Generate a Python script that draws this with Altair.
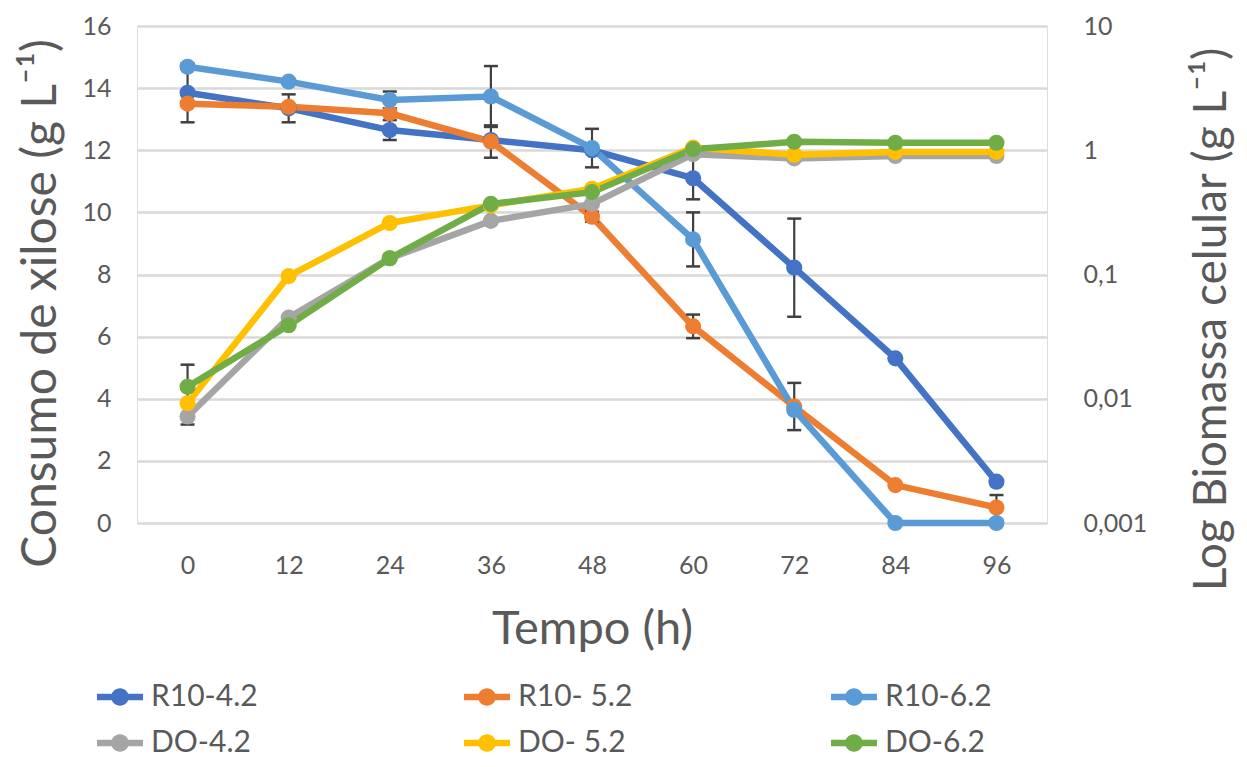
import altair as alt
import pandas as pd

# ---- data ----
times = [0, 12, 24, 36, 48, 60, 72, 84, 96]

series_r10 = ["R10-4.2", "R10- 5.2", "R10-6.2"]
series_do = ["DO-4.2", "DO- 5.2", "DO-6.2"]

r10_42 = [13.85, 13.35, 12.65, 12.33, 12.0, 11.1, 8.22, 5.3, 1.33]
r10_52 = [13.5, 13.4, 13.19, 12.28, 9.86, 6.33, 3.75, 1.22, 0.5]
r10_62 = [14.69, 14.21, 13.62, 13.73, 12.07, 9.13, 3.64, 0.0, 0.0]

do_42 = [0.0072, 0.045, 0.135, 0.27, 0.37, 0.93, 0.86, 0.90, 0.90]
do_52 = [0.0092, 0.097, 0.26, 0.36, 0.49, 1.05, 0.92, 0.97, 0.97]
do_62 = [0.0125, 0.039, 0.135, 0.37, 0.46, 1.02, 1.17, 1.15, 1.15]

# error (± value, 0 = no bar)
err_r10_42 = [0.95, 0.45, 0.32, 0, 0, 0.68, 1.58, 0, 0]
err_r10_52 = [0, 0, 0, 0.52, 0.16, 0.38, 0.76, 0, 0.4]
err_r10_62 = [0, 0, 0.27, 0.98, 0.62, 0.87, 0, 0, 0]
err_do_42 = [0, 0, 0, 0, 0, 0, 0, 0, 0]
err_do_52 = [0, 0, 0, 0, 0, 0, 0, 0, 0]
err_do_62 = [0.0063, 0, 0, 0, 0, 0, 0, 0, 0]

colors = ["#4472C4", "#ED7D31", "#5B9BD5", "#A5A5A5", "#FFC000", "#70AD47"]

# ---- tables ----
def long(names, vals, errs):
    rows, erows = [], []
    for n, v, e in zip(names, vals, errs):
        for t, y, d in zip(times, v, e):
            rows.append({"t": t, "v": y, "s": n})
            if d > 0:
                erows.append({"t": t, "lo": y - d, "hi": y + d, "s": n})
    return pd.DataFrame(rows), pd.DataFrame(erows)

df_r, ef_r = long(series_r10, [r10_42, r10_52, r10_62], [err_r10_42, err_r10_52, err_r10_62])
df_d, ef_d = long(series_do, [do_42, do_52, do_62], [err_do_42, err_do_52, err_do_62])

FONT = "Lato"
GRAY = "#595959"
W, H = 910, 497

legend_path = ("M-1,-0.14L1,-0.14L1,0.14L-1,0.14Z "
               "M0.38,0A0.38,0.38,0,1,1,-0.38,0A0.38,0.38,0,1,1,0.38,0Z")

color_scale = alt.Scale(domain=series_r10 + series_do, range=colors)
legend = alt.Legend(
    orient="none", legendX=-40, legendY=648, columns=3, direction="horizontal",
    symbolType=legend_path, symbolSize=2116, symbolStrokeWidth=0,
    labelFontSize=30, labelFont=FONT, labelColor=GRAY, labelOffset=8,
    columnPadding=198, rowPadding=8, title=None, gridAlign="all", labelLimit=400,
)

x_enc = alt.X(
    "t:Q",
    scale=alt.Scale(domain=[-6, 102], nice=False, zero=False),
    axis=alt.Axis(values=times, grid=False, domain=False, ticks=False,
                  labelFontSize=25, labelFont=FONT, labelColor=GRAY, labelPadding=30,
                  title="Tempo (h)", titleFontSize=47, titleFont=FONT, titleColor=GRAY,
                  titleFontWeight="normal", titlePadding=28),
)

left_axis = alt.Axis(values=list(range(0, 17, 2)), grid=True, gridColor="#D9D9D9", gridWidth=2.5,
                     domain=False, ticks=False, labelFontSize=25, labelFont=FONT, labelColor=GRAY,
                     labelPadding=26, title="Consumo de xilose (g L⁻¹)", titleFontSize=48,
                     titleFont=FONT, titleColor=GRAY, titleFontWeight="normal", titlePadding=16,
                     titleY=277)
left_scale = alt.Scale(domain=[0, 16], nice=False)

right_axis = alt.Axis(orient="right", values=[0.001, 0.01, 0.1, 1, 10], grid=False,
                      domain=False, ticks=False, labelFontSize=25, labelFont=FONT, labelColor=GRAY,
                      labelPadding=36, labelExpr="replace(datum.value + '', '.', ',')",
                      title="Log Biomassa celular (g L⁻¹)", titleFontSize=46, titleAngle=270,
                      titleFont=FONT, titleColor=GRAY, titleFontWeight="normal", titlePadding=89,
                      titleY=293)
right_scale = alt.Scale(type="log", domain=[0.001, 10], nice=False)


def group(df, ef, yaxis, yscale):
    base = alt.Chart(df)
    line = base.mark_line(strokeWidth=6.5).encode(
        x=x_enc, y=alt.Y("v:Q", scale=yscale, axis=yaxis),
        color=alt.Color("s:N", scale=color_scale, legend=legend),
        detail="s:N",
    )
    pts = base.mark_point(filled=True, size=260, opacity=1).encode(
        x=x_enc, y=alt.Y("v:Q", scale=yscale, axis=yaxis),
        color=alt.Color("s:N", scale=color_scale, legend=legend),
    )
    ebase = alt.Chart(ef)
    rule = ebase.mark_rule(color="#404040", strokeWidth=2.2).encode(
        x=x_enc, y=alt.Y("lo:Q", scale=yscale, axis=yaxis), y2="hi:Q",
    )
    caps = ebase.transform_fold(["lo", "hi"], as_=["k", "val"]).mark_point(
        shape="M-1,0L1,0", size=196, strokeWidth=2.5, color="#404040", filled=False, opacity=1
    ).encode(x=x_enc, y=alt.Y("val:Q", scale=yscale, axis=yaxis))
    return alt.layer(line, rule, caps, pts)


left = group(df_r, ef_r, left_axis, left_scale)
right = group(df_d, ef_d, right_axis, right_scale)

chart = alt.layer(left, right).resolve_scale(y="independent").properties(
    width=W, height=H,
    autosize=alt.AutoSizeParams(type="none"),
    padding={"left": 129, "top": 18, "right": 190, "bottom": 236},
).configure_view(stroke=None).configure(font=FONT)

chart.save("out.html", embed_options={"renderer": "svg", "actions": False})
